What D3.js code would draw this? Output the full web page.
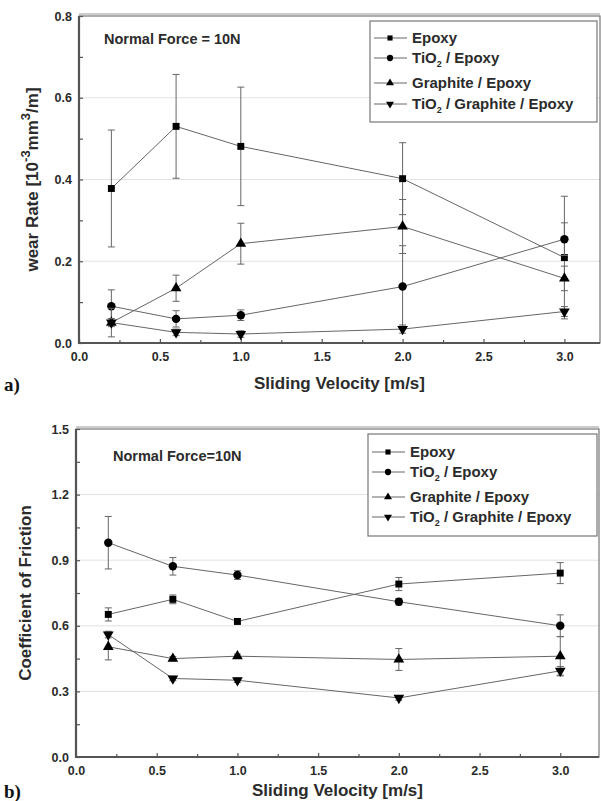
<!DOCTYPE html>
<html>
<head>
<meta charset="utf-8">
<script src="https://cdn.jsdelivr.net/npm/d3@7"></script>
<style>
  body { margin: 0; background: #fff; }
  svg { display: block; font-family: "Liberation Sans", Arial, sans-serif; }
</style>
</head>
<body>
<svg id="chart" width="601" height="801"></svg>
<script>
// x values shared by both panels
var velocity = [0.2, 0.6, 1.0, 2.0, 3.0];

// a) wear rate [10^-3 mm^3/m]
var epoxyWear = [0.378, 0.530, 0.481, 0.402, 0.209];
var epoxyWearErr = [0.143, 0.127, 0.145, 0.088, 0.150];
var tio2Wear = [0.090, 0.059, 0.068, 0.138, 0.254];
var tio2WearErr = [0.040, 0.020, 0.013, 0.100, 0.040];
var graphiteWear = [0.050, 0.134, 0.243, 0.285, 0.158];
var graphiteWearErr = [0.035, 0.032, 0.050, 0.066, 0.030];
var tgWear = [0.050, 0.026, 0.022, 0.034, 0.077];
var tgWearErr = [0.010, 0.008, 0.008, 0.010, 0.012];

// b) coefficient of friction
var epoxyCof = [0.652, 0.721, 0.620, 0.791, 0.841];
var epoxyCofErr = [0.030, 0.020, 0.012, 0.030, 0.048];
var tio2Cof = [0.980, 0.872, 0.832, 0.710, 0.600];
var tio2CofErr = [0.120, 0.040, 0.020, 0.015, 0.050];
var graphiteCof = [0.504, 0.450, 0.461, 0.446, 0.461];
var graphiteCofErr = [0.060, 0.010, 0.010, 0.050, 0.090];
var tgCof = [0.560, 0.359, 0.351, 0.270, 0.394];
var tgCofErr = [0.015, 0.010, 0.010, 0.010, 0.020];

var seriesNames = ["Epoxy", "TiO2 / Epoxy", "Graphite / Epoxy", "TiO2 / Graphite / Epoxy"];
var xTicks = [0.0, 0.5, 1.0, 1.5, 2.0, 2.5, 3.0];
var wearTicks = [0.0, 0.2, 0.4, 0.6, 0.8];
var cofTicks = [0.0, 0.3, 0.6, 0.9, 1.2, 1.5];

var svg = d3.select("#chart");
var lineCol = "#666", textCol = "#2b2b2b";

// marker shapes, same order as the series
var shapes = [
  {type: d3.symbolSquare, size: 48, rot: 0},
  {type: d3.symbolCircle, size: 56, rot: 0},
  {type: d3.symbolTriangle, size: 50, rot: 0},
  {type: d3.symbolTriangle, size: 50, rot: 180}
];

function subLabel(sel, name, size) {
  // write "TiO2" with a subscript 2
  var parts = name.split("TiO2");
  parts.forEach(function (p, i) {
    if (i > 0) {
      sel.append("tspan").text("TiO");
      sel.append("tspan").attr("font-size", size * 0.6).attr("dy", 4).text("2");
      sel.append("tspan").attr("dy", -4).text(p);
    } else if (p) {
      sel.append("tspan").text(p);
    }
  });
}

function drawPanel(cfg) {
  var g = svg.append("g");
  var x = d3.scaleLinear().domain(cfg.xDomain).range([cfg.left, cfg.right]);
  var y = d3.scaleLinear().domain(cfg.yDomain).range([cfg.bottom, cfg.top]);

  // grid lines
  g.selectAll(".grid")
    .data(cfg.yTicks.filter(function (d) { return d > 0 && d < cfg.yDomain[1]; }))
    .enter().append("line")
      .attr("x1", cfg.left).attr("x2", cfg.right)
      .attr("y1", function (d) { return y(d); })
      .attr("y2", function (d) { return y(d); })
      .attr("stroke", "#e2e2e2").attr("stroke-width", 1);

  // frame (top has a double rule)
  g.append("rect")
    .attr("x", cfg.left).attr("y", cfg.top)
    .attr("width", cfg.right - cfg.left).attr("height", cfg.bottom - cfg.top)
    .attr("fill", "none").attr("stroke", "#777").attr("stroke-width", 1.2);
  g.append("line")
    .attr("x1", cfg.left).attr("x2", cfg.right)
    .attr("y1", cfg.top - 2).attr("y2", cfg.top - 2)
    .attr("stroke", "#999").attr("stroke-width", 1);

  // axes, ticks pointing inwards
  var xAxis = g.append("g").attr("transform", "translate(0," + cfg.bottom + ")")
    .call(d3.axisBottom(x).tickValues(xTicks).tickSize(-4).tickPadding(9).tickFormat(d3.format(".1f")));
  var xMinor = g.append("g").attr("transform", "translate(0," + cfg.bottom + ")")
    .call(d3.axisBottom(x).tickValues(xTicks.slice(0, -1).map(function (d) { return d + 0.25; }))
      .tickSize(-3).tickFormat(""));
  var yAxis = g.append("g").attr("transform", "translate(" + cfg.left + ",0)")
    .call(d3.axisLeft(y).tickValues(cfg.yTicks).tickSize(-4).tickPadding(7).tickFormat(d3.format(".1f")));
  var yMinor = g.append("g").attr("transform", "translate(" + cfg.left + ",0)")
    .call(d3.axisLeft(y).tickValues(cfg.yTicks.slice(0, -1).map(function (d) { return d + cfg.yStep / 2; }))
      .tickSize(-4).tickFormat(""));
  [xAxis, xMinor, yAxis, yMinor].forEach(function (a) {
    a.select(".domain").remove();
    a.selectAll("line").attr("stroke", "#555").attr("stroke-width", 1.2);
    a.selectAll("text").attr("fill", textCol).attr("font-size", 12.5)
      .attr("font-weight", "bold").attr("font-family", "Liberation Sans, Arial, sans-serif");
  });

  // thick left and bottom spines
  g.append("line").attr("x1", cfg.left).attr("x2", cfg.left)
    .attr("y1", cfg.top).attr("y2", cfg.bottom + 1)
    .attr("stroke", "#555").attr("stroke-width", 2.2);
  g.append("line").attr("x1", cfg.left - 1).attr("x2", cfg.right)
    .attr("y1", cfg.bottom).attr("y2", cfg.bottom)
    .attr("stroke", "#555").attr("stroke-width", 2.2);

  var line = d3.line()
    .x(function (d) { return x(d.v); })
    .y(function (d) { return y(d.val); });

  cfg.series.forEach(function (s, i) {
    var pts = velocity.map(function (v, j) { return {v: v, val: s.vals[j], err: s.errs[j]}; });

    g.append("path").datum(pts)
      .attr("d", line).attr("fill", "none")
      .attr("stroke", lineCol).attr("stroke-width", 1);

    var eb = g.append("g").attr("stroke", lineCol).attr("stroke-width", 1);
    eb.selectAll(".bar").data(pts).enter().append("line")
      .attr("x1", function (d) { return x(d.v); }).attr("x2", function (d) { return x(d.v); })
      .attr("y1", function (d) { return y(d.val - d.err); })
      .attr("y2", function (d) { return y(d.val + d.err); });
    [-1, 1].forEach(function (sign) {
      eb.selectAll(".cap").data(pts).enter().append("line")
        .attr("x1", function (d) { return x(d.v) - 3.5; })
        .attr("x2", function (d) { return x(d.v) + 3.5; })
        .attr("y1", function (d) { return y(d.val + sign * d.err); })
        .attr("y2", function (d) { return y(d.val + sign * d.err); });
    });

    var sh = shapes[i];
    g.selectAll(".m" + i).data(pts).enter().append("path")
      .attr("d", d3.symbol().type(sh.type).size(sh.size))
      .attr("transform", function (d) {
        return "translate(" + x(d.v) + "," + y(d.val) + ") rotate(" + sh.rot + ")";
      })
      .attr("fill", "#000");
  });

  // legend
  var lg = g.append("g");
  lg.append("rect")
    .attr("x", cfg.legend.x).attr("y", cfg.legend.y)
    .attr("width", cfg.legend.w).attr("height", cfg.legend.h)
    .attr("fill", "#fff").attr("stroke", "#777").attr("stroke-width", 1.2);
  seriesNames.forEach(function (name, i) {
    var ry = cfg.legend.y + cfg.legend.rows[i];
    var lx = cfg.legend.x;
    lg.append("line").attr("x1", lx + 4).attr("x2", lx + 37)
      .attr("y1", ry).attr("y2", ry).attr("stroke", lineCol).attr("stroke-width", 1);
    lg.append("path")
      .attr("d", d3.symbol().type(shapes[i].type).size(shapes[i].size * 0.55))
      .attr("transform", "translate(" + (lx + 20) + "," + ry + ") rotate(" + shapes[i].rot + ")")
      .attr("fill", "#000");
    var t = lg.append("text").attr("x", lx + 42).attr("y", ry + 5)
      .attr("font-size", 15).attr("font-weight", "bold").attr("fill", textCol);
    subLabel(t, name, 15);
  });

  // annotation
  g.append("text").attr("x", cfg.note.x).attr("y", cfg.note.y)
    .attr("font-size", 14.5).attr("font-weight", "bold").attr("fill", textCol)
    .text(cfg.note.text);

  // x title and panel letter
  g.append("text").attr("x", (cfg.left + cfg.right) / 2).attr("y", cfg.xTitleY)
    .attr("text-anchor", "middle").attr("font-size", 17).attr("font-weight", "bold")
    .attr("fill", textCol).text("Sliding Velocity [m/s]");
  g.append("text").attr("x", 4).attr("y", cfg.xTitleY + 2)
    .attr("font-family", "Liberation Serif, Times New Roman, serif")
    .attr("font-size", 19).attr("font-weight", "bold").attr("fill", "#111")
    .text(cfg.letter);

  // y title
  var yt = g.append("text")
    .attr("transform", "translate(" + cfg.yTitleX + "," + ((cfg.top + cfg.bottom) / 2) + ") rotate(-90)")
    .attr("text-anchor", "middle").attr("font-size", 17).attr("font-weight", "bold").attr("fill", textCol);
  cfg.yTitle.forEach(function (p) {
    var ts = yt.append("tspan").text(p.t);
    if (p.sup) ts.attr("font-size", 13).attr("dy", -8);
    if (p.back) ts.attr("dy", 8);
  });
}

drawPanel({
  left: 79, right: 600, top: 16, bottom: 343,
  xDomain: [0, 3.22], yDomain: [0, 0.8], yTicks: wearTicks, yStep: 0.2,
  series: [
    {vals: epoxyWear, errs: epoxyWearErr},
    {vals: tio2Wear, errs: tio2WearErr},
    {vals: graphiteWear, errs: graphiteWearErr},
    {vals: tgWear, errs: tgWearErr}
  ],
  legend: {x: 370, y: 21, w: 227, h: 101, rows: [17, 37, 62, 83]},
  note: {x: 104, y: 44, text: "Normal Force = 10N"},
  xTitleY: 389, letter: "a)", yTitleX: 38,
  yTitle: [{t: "wear Rate [10"}, {t: "-3", sup: true}, {t: "mm", back: true},
           {t: "3", sup: true}, {t: "/m]", back: true}]
});

drawPanel({
  left: 76, right: 599, top: 429, bottom: 757,
  xDomain: [0, 3.24], yDomain: [0, 1.5], yTicks: cofTicks, yStep: 0.3,
  series: [
    {vals: epoxyCof, errs: epoxyCofErr},
    {vals: tio2Cof, errs: tio2CofErr},
    {vals: graphiteCof, errs: graphiteCofErr},
    {vals: tgCof, errs: tgCofErr}
  ],
  legend: {x: 368, y: 434, w: 229, h: 102, rows: [18, 38, 63, 83]},
  note: {x: 113, y: 461, text: "Normal Force=10N"},
  xTitleY: 796, letter: "b)", yTitleX: 31,
  yTitle: [{t: "Coefficient of Friction"}]
});
</script>
</body>
</html>
